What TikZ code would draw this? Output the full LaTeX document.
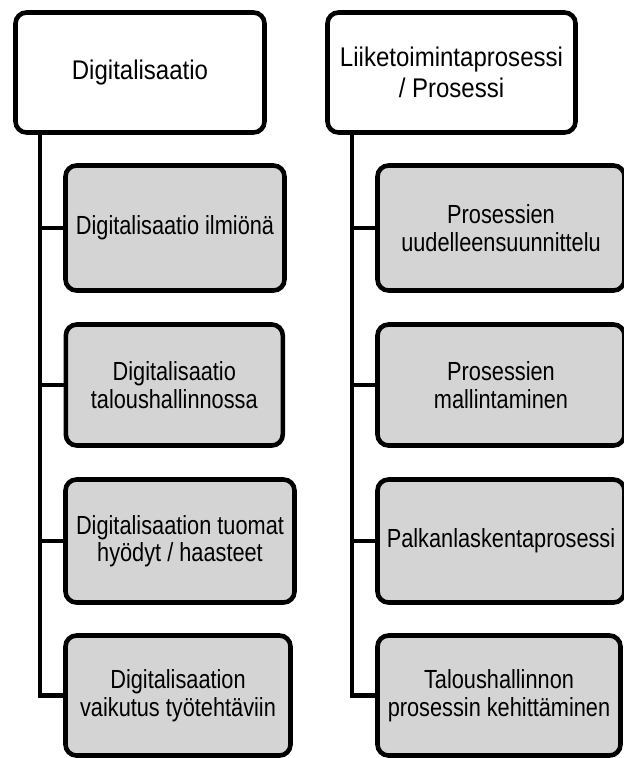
\documentclass[tikz,border=0pt]{standalone}
\usepackage{fontspec}
\setmainfont{Liberation Sans}[FakeStretch=0.89]
\newfontfamily\narrowsans{Liberation Sans}[FakeStretch=0.83]
\definecolor{boxgray}{RGB}{212,212,212}
\tikzset{
  box/.style={draw=black, line width=4.6pt, rounded corners=11pt, align=center,
    inner sep=0pt, outer sep=0pt},
  topbox/.style={box, fill=white, font=\fontsize{27}{30.5}\selectfont},
  subbox/.style={box, fill=boxgray, font=\narrowsans\fontsize{26.2}{27.5}\selectfont},
  conn/.style={draw=black, line width=4.4pt, line join=miter}
}
\begin{document}
\begin{tikzpicture}[x=1pt, y=-1pt]
  \useasboundingbox (0,0) rectangle (624,758);
  \clip (0,0) rectangle (624,758);

  % left column
  \node[topbox, minimum width=249pt, minimum height=120pt] (TL) at (140,72.5) {Digitalisaatio};
  \node[subbox, minimum width=219pt, minimum height=125pt] (L1) at (175,228) {Digitalisaatio ilmiönä};
  \node[subbox, minimum width=217pt, minimum height=121pt] (L2) at (174.3,385) {Digitalisaatio\\taloushallinnossa};
  \node[subbox, minimum width=229pt, minimum height=123pt] (L3) at (180,541) {Digitalisaation tuomat\\hyödyt / haasteet};
  \node[subbox, minimum width=225pt, minimum height=120pt] (L4) at (178,695.5) {Digitalisaation\\vaikutus työtehtäviin};

  % right column
  \node[topbox, minimum width=248pt, minimum height=120pt] (TR) at (451.5,72.5) {Liiketoimintaprosessi\\/ Prosessi};
  \node[subbox, minimum width=247pt, minimum height=125pt] (R1) at (501,228) {Prosessien\\uudelleensuunnittelu};
  \node[subbox, minimum width=247pt, minimum height=121pt] (R2) at (501,385) {Prosessien\\mallintaminen};
  \node[subbox, minimum width=247pt, minimum height=123pt] (R3) at (501,541) {Palkanlaskentaprosessi};
  \node[subbox, minimum width=243pt, minimum height=120pt] (R4) at (499,695.5) {Taloushallinnon\\prosessin kehittäminen};

  % spines
  \coordinate (spineL) at (40,0);
  \coordinate (spineR) at (352,0);
  \draw[conn] (TL.south -| spineL) |- (L4.west);
  \foreach \n in {L1,L2,L3} \draw[conn] (\n.west -| spineL) -- (\n.west);
  \draw[conn] (TR.south -| spineR) |- (R4.west);
  \foreach \n in {R1,R2,R3} \draw[conn] (\n.west -| spineR) -- (\n.west);
\end{tikzpicture}
\end{document}
